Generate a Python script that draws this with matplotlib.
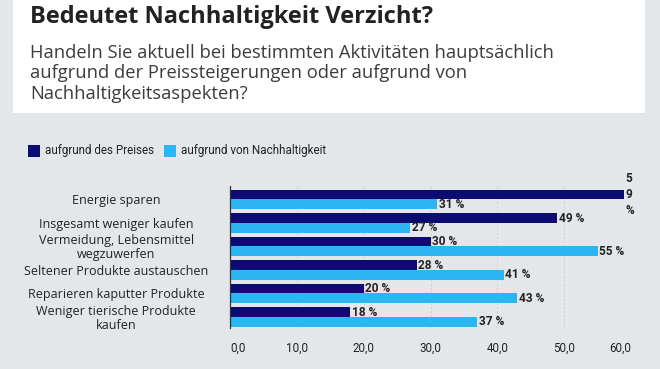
import matplotlib

matplotlib.use("Agg")
import matplotlib.pyplot as plt  # noqa: E402
from matplotlib.patches import Rectangle  # noqa: E402
import matplotlib.transforms as mtransforms  # noqa: E402

# data
categories = [
    "Energie sparen",
    "Insgesamt weniger kaufen",
    "Vermeidung, Lebensmittel\nwegzuwerfen",
    "Seltener Produkte austauschen",
    "Reparieren kaputter Produkte",
    "Weniger tierische Produkte\nkaufen",
]
preis = [59, 49, 30, 28, 20, 18]
nachhaltigkeit = [31, 27, 55, 41, 43, 37]
series_names = ["aufgrund des Preises", "aufgrund von Nachhaltigkeit"]
xticks = [0, 10, 20, 30, 40, 50, 60]

BG = "#e4e7ea"
DARK = "#0b0b73"
LIGHT = "#2bb5f2"
TEXT = "#222222"

W, H = 660, 369
fig = plt.figure(figsize=(W / 100, H / 100), dpi=100, facecolor=BG)


def fx(px):
    return px / W


def fy(py):
    return 1 - py / H


# white header box
fig.patches.append(Rectangle((fx(13), fy(113)), fx(632), 113 / H,
                             transform=fig.transFigure, facecolor="white",
                             edgecolor="none", zorder=0))
fig.text(fx(30), fy(17), "Bedeutet Nachhaltigkeit Verzicht?", family="Open Sans",
         weight="bold", size=17, color=TEXT, va="center")
subtitle = ["Handeln Sie aktuell bei bestimmten Aktivitäten hauptsächlich",
            "aufgrund der Preissteigerungen oder aufgrund von",
            "Nachhaltigkeitsaspekten?"]
for i, line in enumerate(subtitle):
    fig.text(fx(30), fy(53 + i * 20.5), line, family="Open Sans",
             size=13.2, color="#3c3c3c", va="center")

# legend
for x0, name, col in [(28, series_names[0], DARK), (164, series_names[1], LIGHT)]:
    fig.patches.append(Rectangle((fx(x0), fy(156.5)), fx(12), 12 / H,
                                 transform=fig.transFigure, facecolor=col,
                                 edgecolor="none"))
    fig.text(fx(x0 + 17), fy(150.5), name, family="Roboto", size=8.4,
             color=TEXT, va="center")

ax = fig.add_axes([fx(230), fy(328), fx(401), (328 - 186) / H])
ax.set_facecolor(BG)

bh = 0.41
ys = list(range(len(categories)))
ax.barh([y - bh / 2 for y in ys], preis, height=bh, color=DARK, zorder=2)
ax.barh([y + bh / 2 for y in ys], nachhaltigkeit, height=bh, color=LIGHT, zorder=2)

for y, v in zip(ys, preis):
    label = f"{v} %" if v < 57 else f"{v // 10}\n{v % 10}\n%"
    ax.text(v + 0.2, y - bh / 2, label, ha="left", va="center", family="Roboto",
            weight="bold", size=8.6, color=TEXT, linespacing=1.3)
for y, v in zip(ys, nachhaltigkeit):
    ax.text(v + 0.2, y + bh / 2, f"{v} %", ha="left", va="center", family="Roboto",
            weight="bold", size=8.6, color=TEXT)

trans = mtransforms.blended_transform_factory(ax.transAxes, ax.transData)
for y, cat in zip(ys, categories):
    ax.text(-0.284, y + 0.05, cat, transform=trans, ha="center", va="center",
            family="Open Sans", size=9, color=TEXT, linespacing=1.1)

ax.set_xlim(0, 60)
ax.set_ylim(5.47, -0.57)
ax.set_xticks(xticks)
ax.set_xticklabels([f"{t},0" for t in xticks], family="Roboto", size=8.4, color=TEXT)
labels = ax.get_xticklabels()
labels[0].set_ha("left")
labels[-1].set_ha("right")
ax.tick_params(axis="x", length=0, pad=10)
ax.set_yticks([])
ax.grid(axis="x", color="#cdd1d6", linestyle=(0, (2, 2)), linewidth=0.7, zorder=0)
for s in ["top", "right", "bottom"]:
    ax.spines[s].set_visible(False)
ax.spines["left"].set_color("#333333")
ax.spines["left"].set_linewidth(0.9)

fig.savefig("out.png", dpi=100, facecolor=BG)
